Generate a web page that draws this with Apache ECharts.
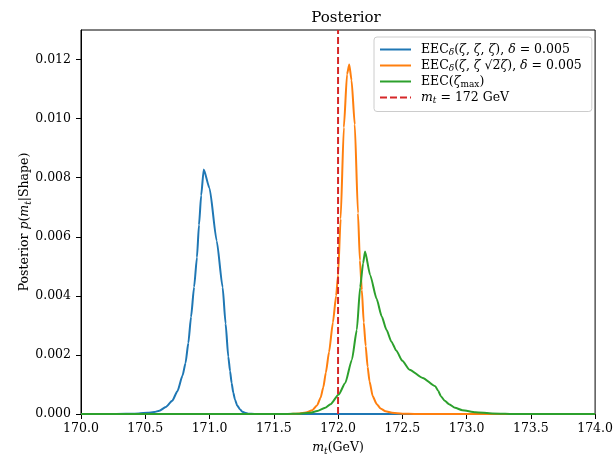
<!DOCTYPE html>
<html>
<head>
<meta charset="utf-8">
<script src="https://cdn.jsdelivr.net/npm/echarts@6/dist/echarts.min.js"></script>
<style>
  html, body { margin: 0; padding: 0; background: #fff; overflow: hidden; }
  #chart { width: 616px; height: 461px; }
</style>
</head>
<body>
<div id="chart"></div>
<script>
// Top-quark mass posteriors for three shape observables.
const xTicks = [170.0, 170.5, 171.0, 171.5, 172.0, 172.5, 173.0, 173.5, 174.0];
const yTicks = [0.000, 0.002, 0.004, 0.006, 0.008, 0.010, 0.012];

const seriesNames = [
  "EECδ(ζ, ζ, ζ), δ = 0.005",
  "EECδ(ζ, ζ √2ζ), δ = 0.005",
  "EEC(ζmax)",
  "mt = 172 GeV"
];

// EEC_delta(zeta, zeta, zeta)
const mtEquilateral = [170.0, 170.2, 170.35, 170.45, 170.52, 170.57, 170.61, 170.66, 170.71, 170.75, 170.79, 170.813, 170.835, 170.856, 170.88, 170.902, 170.918, 170.935, 170.955, 171.0, 171.056, 171.102, 171.125, 171.146, 171.16, 171.172, 171.185, 171.198, 171.215, 171.236, 171.255, 171.275, 171.3, 171.35, 174.0];
const postEquilateral = [0, 0, 0.000005, 0.00002, 0.00004, 0.00007, 0.00011, 0.00024, 0.00045, 0.00077, 0.0013, 0.00172, 0.0024, 0.00328, 0.0043, 0.0053, 0.0064, 0.0074, 0.00828, 0.00764, 0.00586, 0.00429, 0.00306, 0.00194, 0.00145, 0.00105, 0.00072, 0.00049, 0.00029, 0.00016, 0.00008, 0.00004, 0.00001, 0, 0];

// EEC_delta(zeta, zeta, sqrt2 zeta)
const mtIsosceles = [170.0, 171.6, 171.7, 171.75, 171.8, 171.838, 171.864, 171.885, 171.905, 171.93, 171.96, 171.985, 172.0, 172.02, 172.045, 172.07, 172.087, 172.105, 172.13, 172.155, 172.17, 172.185, 172.2, 172.215, 172.23, 172.245, 172.27, 172.3, 172.33, 172.37, 172.42, 172.5, 172.6, 174.0];
const postIsosceles = [0, 0, 0.00002, 0.00005, 0.00013, 0.0003, 0.00055, 0.0009, 0.0014, 0.0021, 0.0031, 0.004, 0.0047, 0.0066, 0.0097, 0.0115, 0.01183, 0.0113, 0.0098, 0.0068, 0.0052, 0.0042, 0.0031, 0.0023, 0.0016, 0.0011, 0.0006, 0.00034, 0.00019, 0.00009, 0.00004, 0.00001, 0, 0];

// EEC(zeta_max)
const mtZetaMax = [170.0, 171.6, 171.7, 171.78, 171.838, 171.9, 171.941, 172.005, 172.056, 172.108, 172.146, 172.172, 172.195, 172.21, 172.25, 172.3, 172.34, 172.377, 172.415, 172.454, 172.5, 172.556, 172.659, 172.756, 172.78, 172.8, 172.83, 172.864, 172.91, 172.967, 173.069, 173.2, 173.4, 174.0];
const postZetaMax = [0, 0, 0.00001, 0.00004, 0.0001, 0.00021, 0.00033, 0.00066, 0.00105, 0.00184, 0.00285, 0.00429, 0.0051, 0.0055, 0.0047, 0.0039, 0.0033, 0.00285, 0.00245, 0.00214, 0.0018, 0.0015, 0.00122, 0.00094, 0.00078, 0.0006, 0.00045, 0.00033, 0.00021, 0.00013, 0.00006, 0.00002, 0, 0];

// Reference top mass
const mtTrue = 172.0;
const yTop = 0.013;

const FONT = '"DejaVu Serif", "Liberation Serif", serif';
const colors = ['#1f77b4', '#ff7f0e', '#2ca02c', '#d62728'];

const zip = (xs, ys) => xs.map((x, i) => [x, ys[i]]);

const richStyles = {
  g:   { width: 5, fontSize: 12.5, lineHeight: 16 },
  n:   { fontFamily: FONT, fontSize: 12.5, lineHeight: 16, color: '#000' },
  it:  { fontFamily: FONT, fontSize: 12.5, lineHeight: 16, fontStyle: 'italic', color: '#000' },
  sub: { fontFamily: FONT, fontSize: 9, lineHeight: 11, verticalAlign: 'bottom', color: '#000' },
  subi:{ fontFamily: FONT, fontSize: 9, lineHeight: 11, verticalAlign: 'bottom', fontStyle: 'italic', color: '#000' }
};

const legendRich = {};
legendRich[seriesNames[0]] = '{g|}{n|EEC}{subi|δ}{n|(}{it|ζ}{n|, }{it|ζ}{n|, }{it|ζ}{n|), }{it|δ}{n| = 0.005}';
legendRich[seriesNames[1]] = '{g|}{n|EEC}{subi|δ}{n|(}{it|ζ}{n|, }{it|ζ }{n|√2̅}{it|ζ}{n|), }{it|δ}{n| = 0.005}';
legendRich[seriesNames[2]] = '{g|}{n|EEC(}{it|ζ}{sub|max}{n|)}';
legendRich[seriesNames[3]] = '{g|}{it|m}{subi|t}{n| = 172 GeV}';

const chart = echarts.init(document.getElementById('chart'), null, { renderer: 'canvas' });

const lineSeries = (name, data, color) => ({
  name, type: 'line', data, symbol: 'none', showSymbol: false,
  smooth: 0.2, smoothMonotone: 'x',
  lineStyle: { color, width: 2 }, itemStyle: { color },
  emphasis: { disabled: true }, animation: false
});

chart.setOption({
  animation: false,
  title: {
    text: 'Posterior', left: 341, top: 6, textAlign: 'center',
    textStyle: { fontFamily: FONT, fontSize: 15, fontWeight: 'normal', color: '#000' }
  },
  grid: { left: 81, top: 30, width: 520, height: 388, show: true, borderColor: '#000', borderWidth: 1 },
  legend: {
    orient: 'vertical', left: 374, top: 37,
    itemWidth: 31, itemHeight: 12, itemGap: 1.5,
    padding: [6, 10, 6, 5],
    backgroundColor: 'rgba(255,255,255,0.85)', borderColor: '#cccccc', borderWidth: 1, borderRadius: 3,
    data: seriesNames,
    itemStyle: { opacity: 0 },
    formatter: name => legendRich[name],
    textStyle: { fontFamily: FONT, fontSize: 12.5, color: '#000', rich: richStyles },
    selectedMode: false
  },
  xAxis: {
    type: 'value', min: 170, max: 174, interval: 0.5,
    name: '{it|m}{subi|t}{n|(GeV)}', nameLocation: 'middle', nameGap: 26, nameMoveOverlap: false,
    nameTextStyle: { rich: richStyles },
    axisLine: { show: true, lineStyle: { color: '#000', width: 1 } },
    axisTick: { show: true, inside: false, length: 5, lineStyle: { color: '#000' } },
    axisLabel: { margin: 8, fontFamily: FONT, fontSize: 12.5, color: '#000', formatter: v => v.toFixed(1) },
    splitLine: { show: false }
  },
  yAxis: {
    type: 'value', min: 0, max: yTop, interval: 0.002,
    name: '{n|Posterior }{it|p}{n|(}{it|m}{subi|t}{n||Shape)}', nameLocation: 'middle', nameGap: 48, nameMoveOverlap: false,
    nameTextStyle: { rich: richStyles },
    axisLine: { show: true, lineStyle: { color: '#000', width: 1 } },
    axisTick: { show: true, inside: false, length: 5, lineStyle: { color: '#000' } },
    axisLabel: {
      margin: 10, fontFamily: FONT, fontSize: 12.5, color: '#000', showMaxLabel: false,
      formatter: v => (yTicks.some(t => Math.abs(t - v) < 1e-9) ? v.toFixed(3) : '')
    },
    splitLine: { show: false }
  },
  series: [
    lineSeries(seriesNames[0], zip(mtEquilateral, postEquilateral), colors[0]),
    lineSeries(seriesNames[1], zip(mtIsosceles, postIsosceles), colors[1]),
    lineSeries(seriesNames[2], zip(mtZetaMax, postZetaMax), colors[2]),
    {
      name: seriesNames[3], type: 'line', symbol: 'none', showSymbol: false,
      data: [[mtTrue, 0], [mtTrue, yTop]],
      lineStyle: { color: colors[3], width: 2, type: [7, 3] }, itemStyle: { color: colors[3] },
      emphasis: { disabled: true }, animation: false
    }
  ]
});
</script>
</body>
</html>
